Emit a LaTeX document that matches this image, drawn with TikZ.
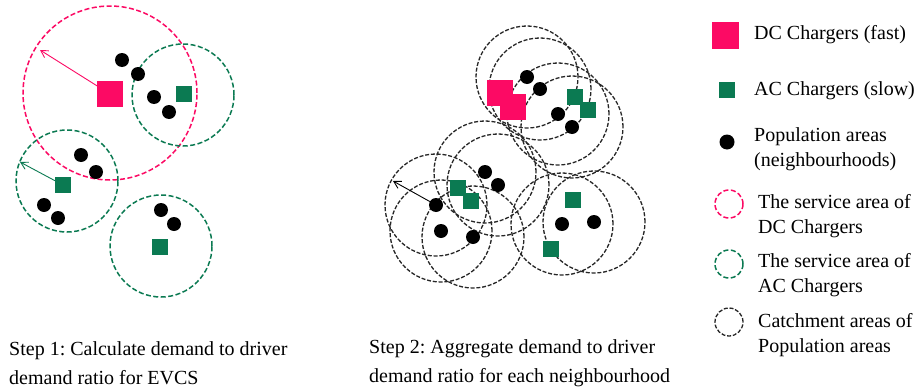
\documentclass[tikz,border=0pt]{standalone}
\usepackage{fontspec}
\setmainfont{Liberation Serif}
\usepackage{xcolor}
\definecolor{DCPink}{HTML}{FC0A64}
\definecolor{ACGreen}{HTML}{0B7A52}
\usepackage{tikz}
\usetikzlibrary{
  positioning,
  arrows.meta,
  backgrounds
}
\frenchspacing

\begin{document}
\begin{tikzpicture}[
    x=1pt, y=-1pt,
    dc/.style={rectangle, fill=DCPink, minimum size=26pt, inner sep=0pt},
    ac/.style={rectangle, fill=ACGreen, minimum size=16pt, inner sep=0pt},
    pop/.style={circle, fill=black, minimum size=14pt, inner sep=0pt},
    dcarea/.style={draw=DCPink, line width=1.5pt, dash pattern=on 5pt off 2.5pt},
    acarea/.style={draw=ACGreen, line width=1.5pt, dash pattern=on 5pt off 2.5pt},
    catch/.style={draw=black!85, line width=1.3pt, dash pattern=on 4pt off 1.8pt},
    reach/.style={-{Straight Barb[length=7pt, width=8pt]}, line width=0.9pt},
    lbl/.style={font=\fontsize{20}{24.5}\selectfont, inner sep=0pt, anchor=west, align=left},
    steptext/.style={font=\fontsize{20}{29}\selectfont, inner sep=0pt, anchor=west, align=left}
  ]
    \useasboundingbox (0,0) rectangle (919,391);

    % step 1: service areas of the chargers
    \node[dc] (dcA) at (110,94) {};
    \node[ac] (acA) at (184,94) {};
    \node[ac] (acB) at (63,185) {};
    \node[ac] (acC) at (160,247) {};
    \foreach \name/\pos in {a1/{122,60}, a2/{138,74}, a3/{154,97}, a4/{169,112},
                            a5/{81,155}, a6/{96,172}, a7/{44,205}, a8/{58,218},
                            a9/{161,210}, a10/{174,224}}
      \node[pop] (\name) at (\pos) {};

    \coordinate (dcreach) at (40,50);
    \coordinate (acreach) at (20,162);

    % step 2: catchment areas of the neighbourhoods
    \node[dc] (dcB) at (500,93) {};
    \node[dc] (dcC) at (513,107) {};
    \node[ac] (acD) at (575,97) {};
    \node[ac] (acE) at (588,110) {};
    \node[ac] (acF) at (458,188) {};
    \node[ac] (acG) at (471,201) {};
    \node[ac] (acH) at (573,200) {};
    \node[ac] (acI) at (551,249) {};
    \foreach \name/\pos in {b1/{527,77}, b2/{540,89}, b3/{558,114}, b4/{572,127},
                            b5/{485,172}, b6/{498,185}, b7/{436,205}, b8/{441,231},
                            b9/{473,237}, b10/{562,224}, b11/{594,222}}
      \node[pop] (\name) at (\pos) {};

    \coordinate (popreach) at (393,181);

    \begin{scope}[on background layer]
      \fill[white] (0,0) rectangle (919,391);
      \draw[dcarea] (110,93) circle[radius=87pt];
      \draw[acarea] (183,95) circle[radius=51pt];
      \draw[acarea] (67,181) circle[radius=51pt];
      \draw[acarea] (161,246) circle[radius=51pt];
      \foreach \name in {b1,b2,b3,b4,b5,b6,b7,b8,b9,b10,b11}
        \draw[catch] (\name.center) circle[radius=51pt];
      \draw[reach, DCPink] (dcA.center) -- (dcreach);
      \draw[reach, ACGreen] (acB.center) -- (acreach);
      \draw[reach, black] (b7.center) -- (popreach);
    \end{scope}

    % legend
    \node[dc, minimum size=27pt] (keydc) at (725,35) {};
    \node[ac] (keyac) at (727,90) {};
    \node[pop, minimum size=15pt] (keypop) at (727,142) {};
    \draw[dcarea] (729,204) circle[radius=14pt];
    \draw[acarea] (729,264) circle[radius=14pt];
    \draw[catch] (729,322) circle[radius=14pt];

    \node[lbl] (keydctxt) at (754,35) {DC Chargers (fast)};
    \node[lbl] (keyactxt) at (754,91) {AC Chargers (slow)};
    \node[lbl] (keypoptxt) at (754,149) {Population areas\\(neighbourhoods)};
    \node[lbl] (keydcarea) at (758,216) {The service area of\\DC Chargers};
    \node[lbl] (keyacarea) at (758,275) {The service area of\\AC Chargers};
    \node[lbl] (keycatch) at (758,335) {Catchment areas of\\Population areas};

    % captions
    \node[steptext] (step1) at (9,363) {Step 1: Calculate demand to driver\\demand ratio for EVCS};
    \node[steptext] (step2) at (369,363) {Step 2: Aggregate demand to driver\\demand ratio for each neighbourhood};
  \end{tikzpicture}
\end{document}
